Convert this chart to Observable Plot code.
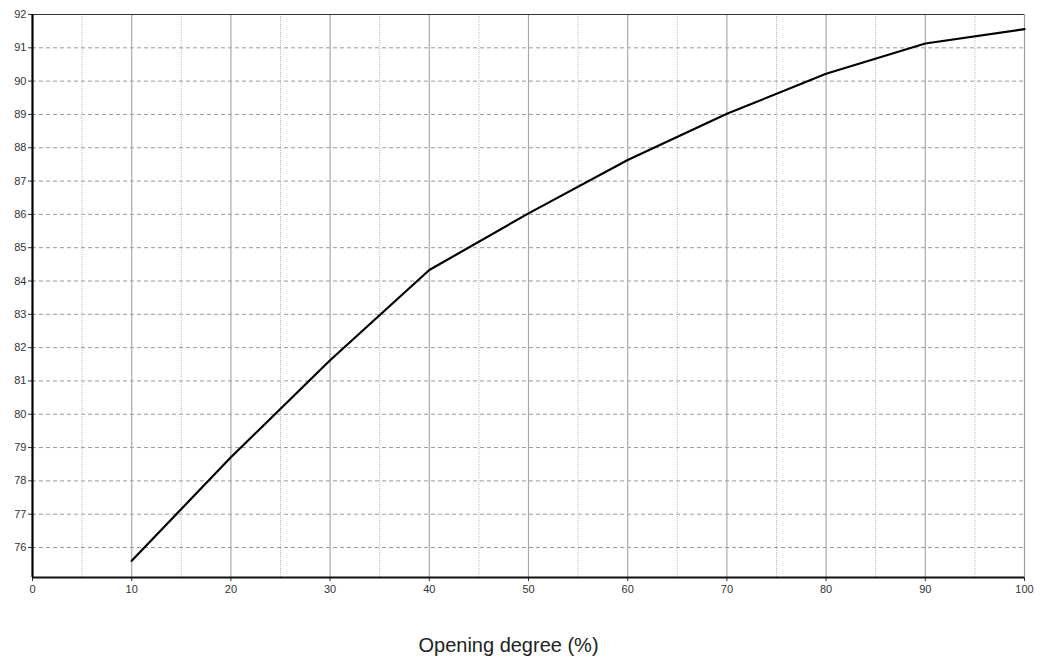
<!DOCTYPE html>
<html>
<head>
<meta charset="utf-8">
<script src="https://cdn.jsdelivr.net/npm/d3@7"></script>
<script src="https://cdn.jsdelivr.net/npm/@observablehq/plot@0.6"></script>
<style>
  html, body { margin: 0; padding: 0; background: #fff; }
  #chart svg { display: block; }
</style>
</head>
<body>
<div id="chart"></div>
<script>
const opening = [10, 20, 30, 40, 50, 60, 70, 80, 90, 100];
const efficiency = [75.6, 78.71, 81.62, 84.33, 86.03, 87.63, 89.02, 90.22, 91.13, 91.56];
const xMajorTicks = [0, 10, 20, 30, 40, 50, 60, 70, 80, 90, 100];
const xMinorTicks = [5, 15, 25, 35, 45, 55, 65, 75, 85, 95];
const yTicks = [76, 77, 78, 79, 80, 81, 82, 83, 84, 85, 86, 87, 88, 89, 90, 91, 92];
const xLabel = "Opening degree (%)";

const data = opening.map((x, i) => ({x, y: efficiency[i]}));

const chart = Plot.plot({
  width: 1041,
  height: 658,
  marginLeft: 32,
  marginRight: 17,
  marginTop: 14,
  marginBottom: 81,
  style: {fontFamily: "'Liberation Sans', Arial, sans-serif", fontSize: "11px", color: "#333", background: "#fff"},
  x: {domain: [0, 100], ticks: xMajorTicks, label: null, tickSize: 4, tickPadding: 4},
  y: {domain: [75.1, 92], ticks: yTicks, label: null, tickSize: 4, tickPadding: 2},
  marks: [
    Plot.ruleY(yTicks, {stroke: "#999", strokeWidth: 1, strokeDasharray: "4,3"}),
    Plot.ruleX(xMinorTicks, {stroke: "#bbb", strokeWidth: 1, strokeDasharray: "1,1"}),
    Plot.ruleX(xMajorTicks.slice(1), {stroke: "#aaa", strokeWidth: 1.2}),
    Plot.frame({stroke: "#999", strokeWidth: 1}),
    Plot.ruleY([92], {stroke: "#333", strokeWidth: 1}),
    Plot.axisX({ticks: xMajorTicks, tickSize: 4, tickPadding: 4, label: null, stroke: "#333", fill: "#333"}),
    Plot.axisY({ticks: yTicks, tickSize: 4, tickPadding: 2, label: null, stroke: "#333", fill: "#333"}),
    Plot.line(data, {x: "x", y: "y", stroke: "#000", strokeWidth: 2.2}),
    Plot.ruleY([75.1], {stroke: "#111", strokeWidth: 2.2}),
    Plot.ruleX([0], {stroke: "#000", strokeWidth: 2.2}),
    Plot.text([xLabel], {frameAnchor: "bottom", dx: -20, dy: 74, fontSize: 20, fill: "#222"})
  ]
});
document.getElementById("chart").appendChild(chart);
</script>
</body>
</html>
